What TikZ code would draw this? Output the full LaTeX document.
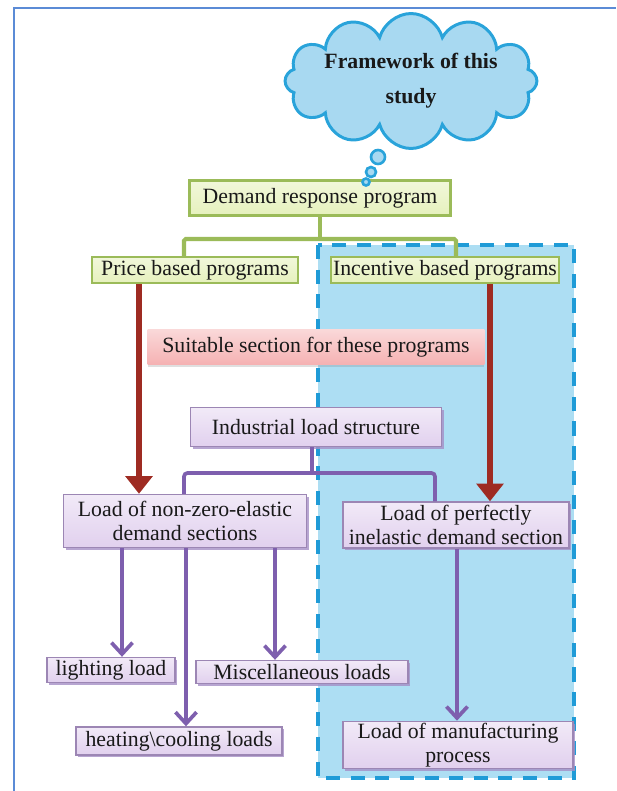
\documentclass[tikz,border=0pt]{standalone}
\usepackage{fontspec}
\setmainfont{Liberation Serif}
\usetikzlibrary{shapes.symbols,arrows.meta,shadows}

\definecolor{framecol}{HTML}{5B8BD6}
\definecolor{cloudline}{HTML}{29A3DA}
\definecolor{cloudfill}{HTML}{A8D9F1}
\definecolor{zonefill}{HTML}{ADDEF3}
\definecolor{zoneline}{HTML}{1F9BD7}
\definecolor{greenline}{HTML}{9BBB59}
\definecolor{greenfill}{HTML}{E6F1BD}
\definecolor{arrowred}{HTML}{9E2B22}
\definecolor{pinkfill}{HTML}{F4A9AA}
\definecolor{purpline}{HTML}{7E5FAE}
\definecolor{purpfill}{HTML}{E1D0EE}
\definecolor{purpdraw}{HTML}{9C86B4}

\begin{document}
\begin{tikzpicture}[x=0.02cm, y=-0.02cm,
    every node/.style={text=black!90, font=\fontsize{12.4}{13.5}\selectfont, align=center, inner sep=1pt},
    greenbox/.style={draw=greenline, line width=1.2pt, top color=greenfill!55, bottom color=greenfill},
    pinkbox/.style={top color=pinkfill!45, bottom color=pinkfill!90, drop shadow={shadow xshift=0pt, shadow yshift=-1.5pt, opacity=0.25}},
    purplebox/.style={draw=purpdraw, line width=0.8pt, top color=purpfill!45, bottom color=purpfill,
        drop shadow={shadow xshift=1.2pt, shadow yshift=-1.2pt, fill=purpline!70, opacity=0.8}},
    bubble/.style={circle, draw=cloudline, fill=cloudfill, line width=1.5pt, inner sep=0pt},
    greenlink/.style={greenline, line width=2.3pt},
    redlink/.style={arrowred, line width=3.4pt, -{Triangle[length=10pt, width=15pt]}},
    purplelink/.style={purpline, line width=2.1pt},
    purplearrow/.style={purplelink, -{Straight Barb[length=6.5pt, width=12pt, line width=2.1pt]}},
    ]
  \useasboundingbox (0,0) rectangle (616,791);
  \draw[framecol, line width=0.9pt] (14,791) -- (14,8) -- (616,8);

  % section suited to incentive programs
  \draw[zoneline, fill=zonefill, line width=2.3pt, dash pattern=on 8pt off 6pt] (318,245) rectangle (574,778);

  \node[cloud, cloud puffs=12, cloud ignores aspect, draw=cloudline, fill=cloudfill, line width=1.7pt,
        minimum width=4.8cm, minimum height=2.7cm, inner sep=0pt, font=\bfseries\fontsize{12.4}{20}\selectfont]
      (frame) at (411,81) {Framework of this\\study};

  \node[greenbox, minimum width=5.22cm, minimum height=0.7cm] (demand) at (320,198) {Demand response program};
  \node[greenbox, minimum width=4.12cm, minimum height=0.52cm] (price) at (195,270) {Price based programs};
  \node[greenbox, minimum width=4.56cm, minimum height=0.52cm] (incentive) at (445,270) {Incentive based programs};

  \node[bubble, minimum size=0.28cm] (bubA) at (378,157) {};
  \node[bubble, minimum size=0.2cm] (bubB) at (371,172) {};
  \node[bubble, minimum size=0.14cm] (bubC) at (366,182) {};

  \node[pinkbox, minimum width=6.74cm, minimum height=0.7cm] (suitable) at (316,347) {Suitable section for these programs};
  \node[purplebox, minimum width=5.02cm, minimum height=0.78cm] (industrial) at (316,427) {Industrial load structure};

  \node[purplebox, minimum width=4.86cm, minimum height=1.06cm] (nonzero) at (185,521) {Load of non-zero-elastic\\demand sections};
  \node[purplebox, minimum width=4.52cm, minimum height=0.92cm] (perfect) at (456,525) {Load of perfectly\\inelastic demand section};

  \node[purplebox, minimum width=2.56cm, minimum height=0.5cm] (lighting) at (111,670) {lighting load};
  \node[purplebox, minimum width=4.24cm, minimum height=0.46cm] (misc) at (302,672) {Miscellaneous loads};
  \node[purplebox, minimum width=4.12cm, minimum height=0.56cm] (heating) at (179,741) {heating\textbackslash cooling loads};
  \node[purplebox, minimum width=4.6cm, minimum height=0.92cm] (manuf) at (458,745) {Load of manufacturing\\process};

  % program split
  \coordinate (gsplit) at (320,239);
  \draw[greenlink] (demand.south) -- (gsplit);
  \draw[greenlink, rounded corners=1pt] (price.north -| 184,0) |- (gsplit) -| (incentive.north -| 456,0);

  \draw[redlink] (price.south -| 139,0) -- (nonzero.north -| 139,0);
  \draw[redlink] (incentive.south -| 490,0) -- (perfect.north -| 490,0);

  % load structure brace
  \coordinate (pbrace) at (312,473);
  \draw[purplelink] (industrial.south -| 312,0) -- (pbrace);
  \draw[purplelink, rounded corners=2pt] (nonzero.north -| 184,0) |- (pbrace) -| (perfect.north -| 435,0);

  \draw[purplearrow] (nonzero.south -| 122,0) -- (lighting.north -| 122,0);
  \draw[purplearrow] (nonzero.south -| 186,0) -- (heating.north -| 186,0);
  \draw[purplearrow] (nonzero.south -| 275,0) -- (misc.north -| 275,0);
  \draw[purplearrow] (perfect.south -| 457,0) -- (manuf.north -| 457,0);
\end{tikzpicture}
\end{document}
